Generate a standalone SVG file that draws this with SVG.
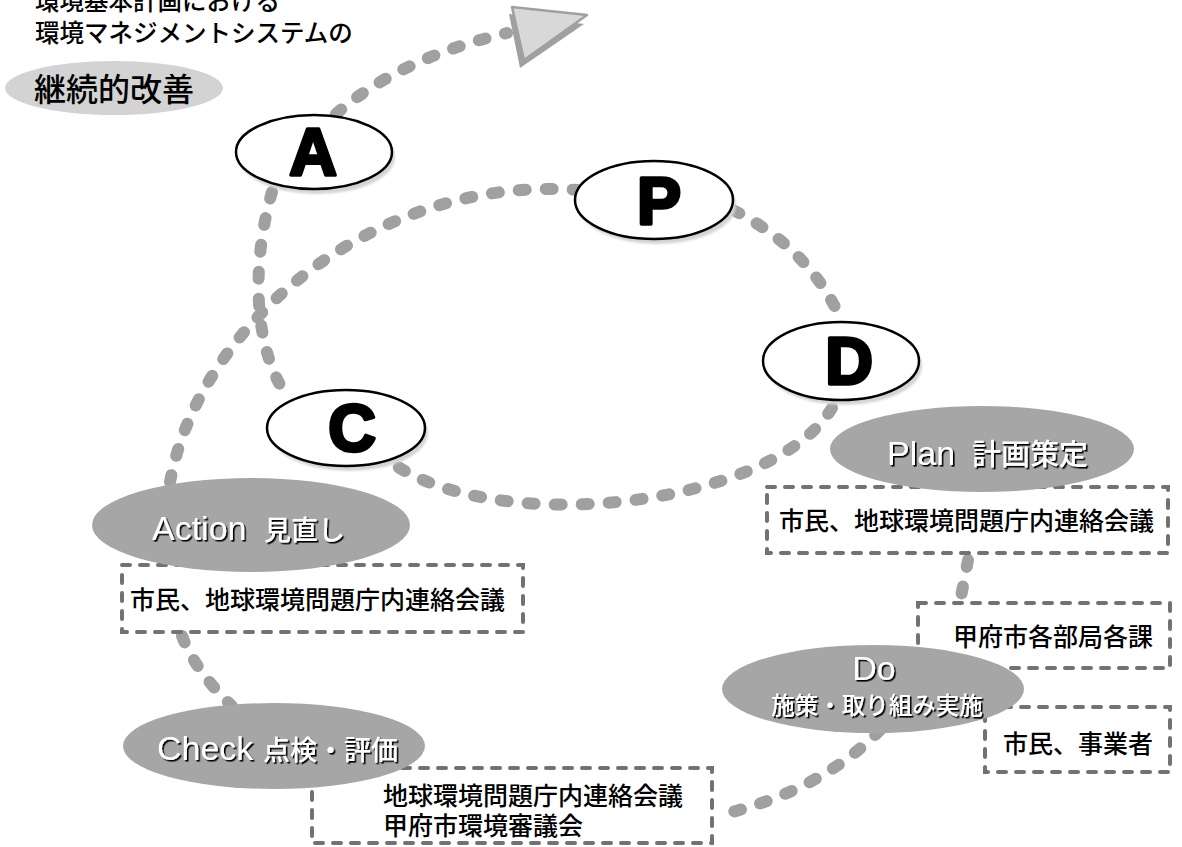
<svg xmlns="http://www.w3.org/2000/svg" width="1182" height="847" viewBox="0 0 1182 847">
  <defs>
    <style>
      .jp { font-family: "Noto Sans CJK JP", "Noto Sans", sans-serif; font-weight: 500; fill: #000; }
      .head { font-size: 24.5px; }
      .flow { fill: none; stroke: #a0a0a0; stroke-width: 12; stroke-linecap: round; stroke-dasharray: 7 20; }
      .box { fill: none; stroke: #727272; stroke-width: 4; stroke-linecap: round; stroke-dasharray: 8 10; }
      .boxtext { font-family: "Noto Sans CJK JP", sans-serif; font-weight: 500; font-size: 25px; fill: #000; }
      .stage { fill: #a6a6a6; }
      .stagetext { fill: #fff; filter: url(#textShadow); }
      .lat { font-family: "Liberation Sans", Arial, sans-serif; font-size: 34px; }
      .cjk { font-family: "Noto Sans CJK JP", sans-serif; font-weight: 500; }
      .letter-oval { fill: #fff; stroke: #000; stroke-width: 2.5; }
      .letter-shadow { fill: #d4d4d4; filter: url(#soft); }
      .letter { font-family: "Liberation Sans", Arial, sans-serif; font-weight: 700; font-size: 66px; fill: #000; stroke: #000; stroke-width: 3.5; stroke-linejoin: round; text-anchor: middle; }
    </style>
    <filter id="textShadow" x="-10%" y="-20%" width="130%" height="150%">
      <feDropShadow dx="1.6" dy="1.6" stdDeviation="0.4" flood-color="#000" flood-opacity="1"/>
    </filter>
    <filter id="soft" x="-10%" y="-10%" width="120%" height="130%">
      <feGaussianBlur stdDeviation="1.2"/>
    </filter>
  </defs>

  <rect width="1182" height="847" fill="#fff"/>

  <!-- heading -->
  <g id="heading">
    <text class="jp head" x="35" y="10">環境基本計画における</text>
    <text class="jp head" x="35" y="42">環境マネジメントシステムの</text>
    <ellipse cx="114" cy="88" rx="109" ry="27" fill="#d3d3d3"/>
    <text class="jp" x="34" y="101" font-size="32">継続的改善</text>
  </g>

  <!-- connectors -->
  <g id="connectors">
    <path class="flow" d="M 336 114 Q 400 58 507 33"/>
    <path class="flow" d="M 272 192 C 255 250, 248 340, 288 398"/>
    <path class="flow" d="M 170 482 C 200 320, 380 175, 578 190"/>
    <path class="flow" d="M 733 210 Q 812 250 843 324"/>
    <path class="flow" d="M 832 408 C 770 510, 480 540, 382 455"/>
    <path class="flow" d="M 968 560 L 960 602"/>
    <path class="flow" d="M 880 730 Q 820 792 716 816"/>
    <path class="flow" d="M 182 636 Q 196 672 232 706"/>
    <!-- arrowhead -->
    <polygon points="509,14 584,24 520,68" fill="#a0a0a0"/>
    <polygon points="512,7 587,15 524,60" fill="#d8d8d8" stroke="#a0a0a0" stroke-width="2.5" stroke-linejoin="round"/>
  </g>

  <!-- A -->
  <g id="node-a">
    <ellipse class="letter-shadow" cx="317" cy="157" rx="78" ry="37"/>
    <ellipse class="letter-oval" cx="314" cy="152" rx="78" ry="37"/>
    <text class="letter" x="313" y="175">A</text>
  </g>

  <!-- P -->
  <g id="node-p">
    <ellipse class="letter-shadow" cx="657" cy="205" rx="79" ry="39"/>
    <ellipse class="letter-oval" cx="654" cy="200" rx="79" ry="39"/>
    <text class="letter" x="659" y="224">P</text>
  </g>

  <!-- D -->
  <g id="node-d">
    <ellipse class="letter-shadow" cx="844" cy="366" rx="78" ry="39"/>
    <ellipse class="letter-oval" cx="841" cy="361" rx="78" ry="39"/>
    <text class="letter" x="849" y="384">D</text>
  </g>

  <!-- C -->
  <g id="node-c">
    <ellipse class="letter-shadow" cx="349" cy="433" rx="79" ry="38"/>
    <ellipse class="letter-oval" cx="346" cy="428" rx="79" ry="38"/>
    <text class="letter" x="352" y="451">C</text>
  </g>

  <!-- Plan -->
  <g id="node-plan">
    <rect class="box" x="767" y="487" width="401" height="66"/>
    <text class="boxtext" x="779" y="530">市民、地球環境問題庁内連絡会議</text>
    <ellipse class="stage" cx="982" cy="449" rx="152" ry="43"/>
    <text class="stagetext" y="465"><tspan class="lat" x="887">Plan</tspan><tspan class="cjk" x="972" font-size="29">計画策定</tspan></text>
  </g>

  <!-- Action -->
  <g id="node-action">
    <rect class="box" x="122" y="565" width="401" height="67"/>
    <text class="boxtext" x="130" y="609">市民、地球環境問題庁内連絡会議</text>
    <ellipse class="stage" cx="251" cy="525" rx="159" ry="47"/>
    <text class="stagetext" y="540"><tspan class="lat" x="152">Action</tspan><tspan class="cjk" x="264" font-size="27">見直し</tspan></text>
  </g>

  <!-- Check -->
  <g id="node-check">
    <rect class="box" x="312" y="768" width="400" height="75"/>
    <text class="boxtext" x="383" y="805" font-size="24.5">地球環境問題庁内連絡会議</text>
    <text class="boxtext" x="383" y="835" font-size="24.5">甲府市環境審議会</text>
    <ellipse class="stage" cx="274" cy="746" rx="151" ry="43"/>
    <text class="stagetext" y="760"><tspan class="lat" x="157">Check</tspan><tspan class="cjk" x="263" font-size="27">点検・評価</tspan></text>
  </g>

  <!-- Do -->
  <g id="node-do">
    <rect class="box" x="918" y="603" width="252" height="65"/>
    <text class="boxtext" x="953" y="646">甲府市各部局各課</text>
    <rect class="box" x="985" y="707" width="185" height="65"/>
    <text class="boxtext" x="1003" y="753" font-size="24.5">市民、事業者</text>
    <ellipse class="stage" cx="873" cy="689" rx="151" ry="44"/>
    <text class="stagetext lat" x="874" y="680" text-anchor="middle">Do</text>
    <text class="stagetext cjk" x="877" y="714" font-size="23.5" text-anchor="middle">施策・取り組み実施</text>
  </g>
</svg>
